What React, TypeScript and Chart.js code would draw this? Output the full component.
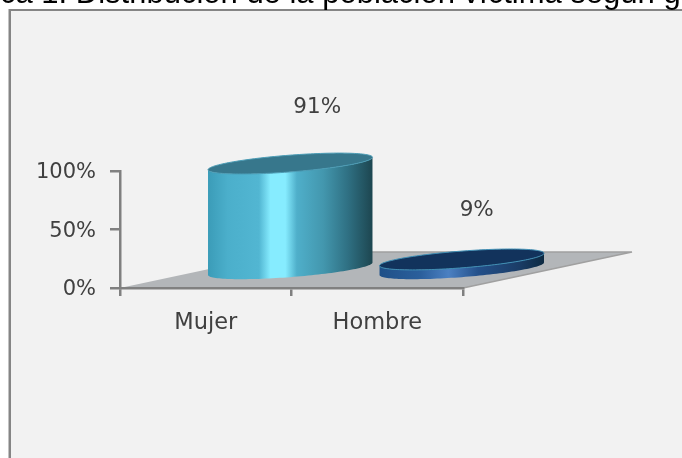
import React, { useEffect, useRef } from "react";
import { Chart, registerables } from "chart.js";

Chart.register(...registerables);

const categories = ["Mujer", "Hombre"];
const values = [91, 9];
const valueLabels = ["91%", "9%"];
const yTicks = [0, 50, 100];
const titleText = "ca 1. Distribución de la población víctima según g";

const FONT = '"DejaVu Sans", sans-serif';
const AXIS = "#808080";
const TEXT = "#404040";
const DEPTH = { x: 169, y: -36 };
const RADIUS_DEPTH = 0.29;
const labelOffsets = [
  { x: 27, y: -56 },
  { x: 15, y: -49 },
];
const sideStops: [number, string][][] = [
  [
    [0, "#3b9cb8"],
    [0.12, "#4bafcb"],
    [0.31, "#52b6d2"],
    [0.38, "#86ecff"],
    [0.47, "#86ecff"],
    [0.54, "#4fafca"],
    [0.7, "#4397ae"],
    [0.85, "#2f7083"],
    [1, "#1d4650"],
  ],
  [
    [0, "#1f5088"],
    [0.25, "#2b5f9c"],
    [0.42, "#4b80c2"],
    [0.6, "#24508a"],
    [0.85, "#1a3c66"],
    [1, "#0d2a42"],
  ],
];
const topFill = ["#37778c", "#12335c"];
const rimColor = ["#4a9cb5", "#3f8fb5"];

function ellipsePoint(cx: number, cy: number, a: number, t: number) {
  return {
    x: cx + Math.cos(t) * a + Math.sin(t) * DEPTH.x * RADIUS_DEPTH,
    y: cy + Math.sin(t) * DEPTH.y * RADIUS_DEPTH,
  };
}

const cylinders = {
  id: "cylinders",
  beforeDraw(chart: any) {
    const { ctx, chartArea: c, width, height } = chart;
    ctx.save();
    ctx.fillStyle = "#ffffff";
    ctx.fillRect(0, 0, width, height);
    ctx.fillStyle = "#858585";
    ctx.fillRect(8.5, 9, width - 8.5, height - 9);
    ctx.fillStyle = "#f2f2f2";
    ctx.fillRect(11, 11, width - 11, height - 11);

    ctx.fillStyle = "#b3b6b9";
    ctx.beginPath();
    ctx.moveTo(c.left, c.bottom);
    ctx.lineTo(c.right, c.bottom);
    ctx.lineTo(c.right + DEPTH.x, c.bottom + DEPTH.y);
    ctx.lineTo(c.left + DEPTH.x, c.bottom + DEPTH.y);
    ctx.closePath();
    ctx.fill();
    ctx.strokeStyle = "#a0a0a0";
    ctx.lineWidth = 1.5;
    ctx.lineJoin = "bevel";
    ctx.beginPath();
    ctx.moveTo(c.left + DEPTH.x, c.bottom + DEPTH.y);
    ctx.lineTo(c.right + DEPTH.x, c.bottom + DEPTH.y);
    ctx.lineTo(c.right, c.bottom);
    ctx.stroke();

    ctx.fillStyle = "#000000";
    ctx.font = "31px 'Liberation Sans', sans-serif";
    ctx.textBaseline = "alphabetic";
    ctx.textAlign = "left";
    ctx.fillText(titleText, 0, 3);
    ctx.restore();
  },
  afterDatasetsDraw(chart: any) {
    const { ctx } = chart;
    const bars = chart.getDatasetMeta(0).data;
    bars.forEach((bar: any, i: number) => {
      const a = bar.width / 2;
      const cx = bar.x + DEPTH.x / 2;
      const baseY = bar.base + DEPTH.y / 2;
      const topY = baseY - (bar.base - bar.y);
      const tR = Math.atan2(DEPTH.x * RADIUS_DEPTH, a);
      const right = ellipsePoint(cx, baseY, a, tR).x;
      const left = ellipsePoint(cx, baseY, a, tR + Math.PI).x;

      const grad = ctx.createLinearGradient(left, 0, right, 0);
      sideStops[i].forEach(([o, col]) => grad.addColorStop(o, col));

      ctx.save();
      ctx.beginPath();
      const steps = 72;
      for (let s = 0; s <= steps; s++) {
        const p = ellipsePoint(cx, baseY, a, tR - (Math.PI * s) / steps);
        s === 0 ? ctx.moveTo(p.x, p.y) : ctx.lineTo(p.x, p.y);
      }
      for (let s = steps; s >= 0; s--) {
        const p = ellipsePoint(cx, topY, a, tR - (Math.PI * s) / steps);
        ctx.lineTo(p.x, p.y);
      }
      ctx.closePath();
      ctx.fillStyle = grad;
      ctx.fill();

      ctx.beginPath();
      for (let s = 0; s <= steps * 2; s++) {
        const p = ellipsePoint(cx, topY, a, (Math.PI * s) / steps);
        s === 0 ? ctx.moveTo(p.x, p.y) : ctx.lineTo(p.x, p.y);
      }
      ctx.closePath();
      ctx.fillStyle = topFill[i];
      ctx.fill();
      ctx.strokeStyle = rimColor[i];
      ctx.lineWidth = 1;
      ctx.stroke();

      ctx.fillStyle = TEXT;
      ctx.font = `21.5px ${FONT}`;
      ctx.textAlign = "center";
      ctx.textBaseline = "middle";
      ctx.fillText(valueLabels[i], cx + labelOffsets[i].x, topY + labelOffsets[i].y);
      ctx.restore();
    });
  },
};

export default function App() {
  const ref = useRef<HTMLCanvasElement>(null);
  useEffect(() => {
    const chart = new Chart(ref.current!, {
      type: "bar",
      data: {
        labels: categories,
        datasets: [
          {
            data: values,
            backgroundColor: "rgba(0,0,0,0)",
            categoryPercentage: 1,
            barPercentage: 0.77,
          },
        ],
      },
      plugins: [cylinders],
      options: {
        animation: false,
        responsive: false,
        events: [],
        layout: { padding: { left: 0, top: 171, right: 219, bottom: 0 } },
        plugins: { legend: { display: false }, title: { display: false }, tooltip: { enabled: false } },
        scales: {
          x: {
            afterFit: (s: any) => {
              s.height = 170;
            },
            grid: { drawOnChartArea: false, color: AXIS, tickLength: 8, lineWidth: 2.5 },
            border: { color: AXIS, width: 2.5 },
            ticks: { color: TEXT, font: { family: FONT, size: 22.5 }, padding: 14 },
          },
          y: {
            min: 0,
            max: 100,
            afterFit: (s: any) => {
              s.width = 120;
            },
            afterBuildTicks: (s: any) => {
              s.ticks = yTicks.map((value) => ({ value }));
            },
            grid: { drawOnChartArea: false, color: AXIS, tickLength: 10, lineWidth: 2.5 },
            border: { color: AXIS, width: 2.5 },
            ticks: {
              color: TEXT,
              font: { family: FONT, size: 21 },
              padding: 14,
              labelOffset: 2,
              callback: (v: any) => `${v}%`,
            },
          },
        },
      },
    });
    return () => chart.destroy();
  }, []);
  return (
    <div style={{ position: "fixed", left: 0, top: 0, width: 682, height: 458 }}>
      <canvas ref={ref} width={682} height={458} style={{ display: "block", filter: "blur(0.5px)" }} />
    </div>
  );
}
